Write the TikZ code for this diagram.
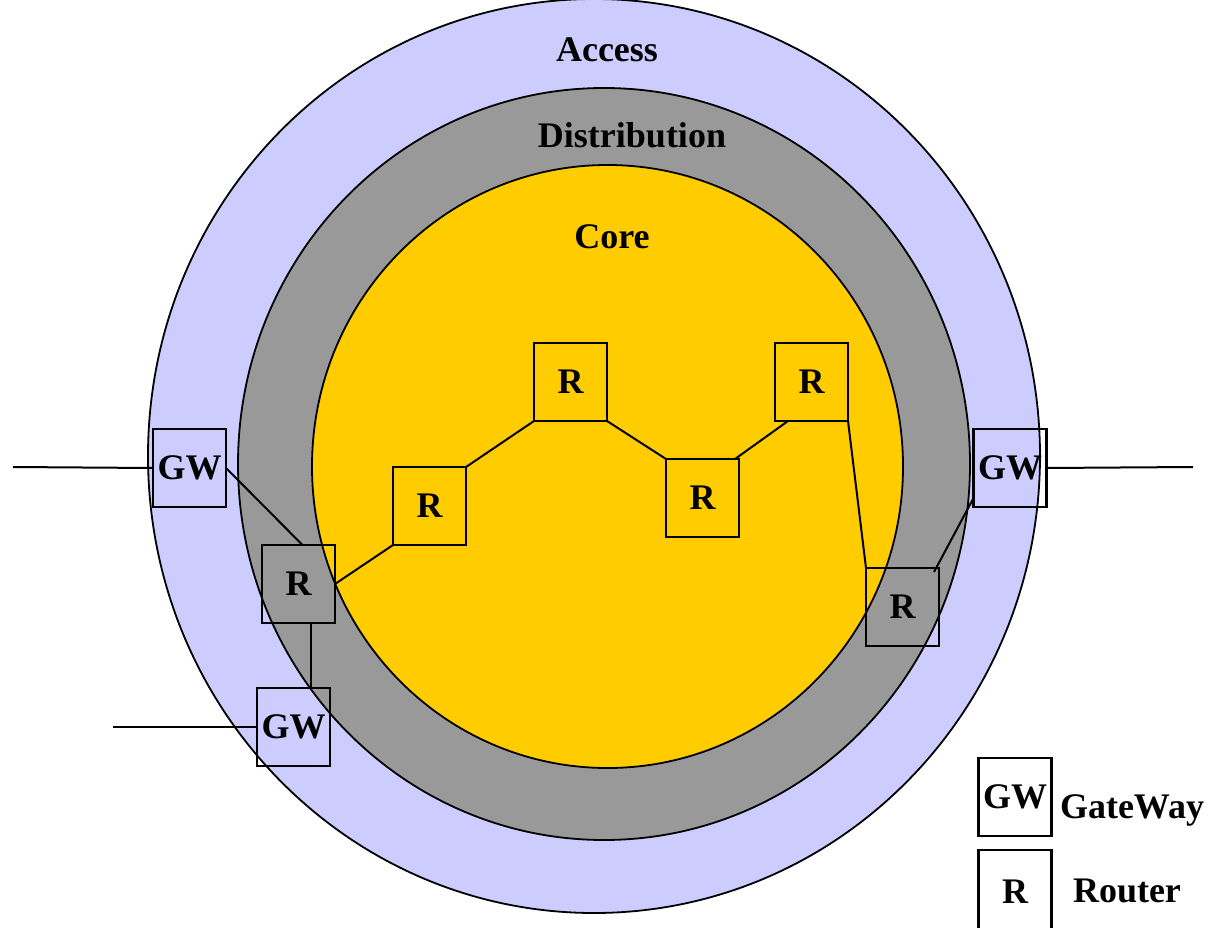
\documentclass[tikz,border=0pt]{standalone}
\usepackage{fontspec}
\setmainfont{Liberation Serif}
\usetikzlibrary{positioning}
\definecolor{accessblue}{HTML}{CCCCFF}
\definecolor{distgray}{HTML}{999999}
\definecolor{coreyellow}{HTML}{FFCC00}
\tikzstyle{every node}=[font=\fontsize{36}{40}\selectfont\bfseries, inner sep=0, outer sep=0]
\tikzstyle{box}=[draw, line width=2.2pt, minimum width=73pt, minimum height=78pt]
\tikzstyle{link}=[line width=2pt]
\tikzstyle{ring}=[line width=1.8pt]

\begin{document}
\begin{tikzpicture}[x=1pt,y=-1pt]
    \useasboundingbox (0,0) rectangle (1209,928);
    % rings: access, distribution, core
    \filldraw[ring, fill=accessblue] (594,456) ellipse (446pt and 457pt);
    \filldraw[ring, fill=distgray] (604,464) ellipse (366pt and 376pt);
    \filldraw[ring, fill=coreyellow] (607.5,466.5) ellipse (295.5pt and 301.5pt);
    \node[anchor=base] (access) at (607,62) {Access};
    \node[anchor=base] (distrib) at (632,148) {Distribution};
    \node[anchor=base] (core) at (612,248) {Core};

    % routers and gateways
    \node[box] (gwL) at (189.5,468) {GW};
    \node[box] (rL) at (298.5,584) {R};
    \node[box] (gwB) at (293.5,727) {GW};
    \node[box] (r1) at (429.5,506) {R};
    \node[box] (r2) at (570.5,382) {R};
    \node[box] (r3) at (702.5,498) {R};
    \node[box] (r4) at (811.5,382) {R};
    \node[box] (rR) at (902.5,607) {R};
    \node[box] (gwR) at (1010,468) {GW};
    \coordinate (inL) at (13,467);
    \coordinate (inB) at (113,727);
    \coordinate (outR) at (1193,467);

    \draw[link] (inL) -- (gwL.west);
    \draw[link] (inB) -- (gwB.west);
    \draw[link] (gwR.east) -- (outR);
    \draw[link] (gwL.east) -- ([xshift=4pt]rL.north);
    \draw[link] ([xshift=12pt]rL.south) -- ([xshift=12pt]rL.south |- gwB.north);
    \draw[link] (rL.east) -- (r1.south west);
    \draw[link] (r1.north east) -- (r2.south west);
    \draw[link] (r2.south east) -- (r3.north west);
    \draw[link] ([xshift=-4pt]r3.north east) -- ([xshift=13pt]r4.south west);
    \draw[link] (r4.south east) -- (rR.north west);
    \draw[link] ([xshift=-5pt,yshift=-4pt]rR.north east) -- ([yshift=9pt]gwR.south west);

    % legend
    \node[box] (keyGW) at (1015,797) {GW};
    \node[box, minimum height=84pt] (keyR) at (1015,892) {R};
    \node[anchor=base west] (keyGWtxt) at (1060,818) {GateWay};
    \node[anchor=base west] (keyRtxt) at (1073,902) {Router};
\end{tikzpicture}
\end{document}
